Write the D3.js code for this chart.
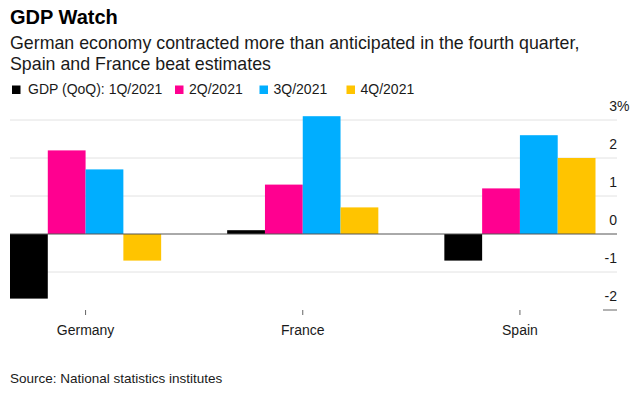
<!DOCTYPE html>
<html>
<head>
<meta charset="utf-8">
<script src="https://cdn.jsdelivr.net/npm/d3@7"></script>
<style>
  body { margin: 0; background: #fff; }
  svg { font-family: "Liberation Sans", Arial, sans-serif; }
</style>
</head>
<body>
<svg width="639" height="399"></svg>
<script>
const countries = ["Germany", "France", "Spain"];
const quarters = ["1Q/2021", "2Q/2021", "3Q/2021", "4Q/2021"];
const q1 = [-1.7, 0.1, -0.7];
const q2 = [2.2, 1.3, 1.2];
const q3 = [1.7, 3.1, 2.6];
const q4 = [-0.7, 0.7, 2.0];
const yTicks = [-2, -1, 0, 1, 2, 3];
const colors = ["#000000", "#ff0090", "#00aeff", "#ffc400"];

const series = [q1, q2, q3, q4];
const rows = countries.map((c, i) => ({ country: c, values: series.map(s => s[i]) }));

const svg = d3.select("svg");

// Title block
svg.append("text").attr("x", 10).attr("y", 23.5)
    .style("font-size", "20px").style("font-weight", "bold").style("fill", "#000")
    .text("GDP Watch");
svg.append("text").attr("x", 10).attr("y", 48.5)
    .style("font-size", "17.8px").style("fill", "#1a1a1a")
    .text("German economy contracted more than anticipated in the fourth quarter,");
svg.append("text").attr("x", 10).attr("y", 69.5)
    .style("font-size", "17.8px").style("fill", "#1a1a1a")
    .text("Spain and France beat estimates");

// Legend
const legendLabels = ["GDP (QoQ): 1Q/2021", "2Q/2021", "3Q/2021", "4Q/2021"];
const legendX = [12, 175, 259.5, 346.5];
const legend = svg.append("g").selectAll("g")
    .data(legendLabels)
    .enter().append("g")
    .attr("transform", (d, i) => `translate(${legendX[i]},0)`);
legend.append("rect")
    .attr("x", 0).attr("y", 85.5).attr("width", 8.5).attr("height", 8.5)
    .style("fill", (d, i) => colors[i]);
legend.append("text")
    .attr("x", (d, i) => i === 0 ? 16 : 14).attr("y", 94)
    .style("font-size", "14px").style("fill", "#1a1a1a")
    .text(d => d);

// Scales
const x0 = d3.scaleBand().domain(countries).range([10, 595.5])
    .paddingInner(0.304).paddingOuter(0);
const x1 = d3.scaleBand().domain(d3.range(quarters.length)).range([0, x0.bandwidth()]);
const y = d3.scaleLinear().domain([-2, 3]).range([310, 120]);

// Gridlines
svg.append("g").selectAll("line")
    .data(yTicks.filter(t => t !== -2 && t !== 0))
    .enter().append("line")
    .attr("x1", 10).attr("x2", 617)
    .attr("y1", d => y(d)).attr("y2", d => y(d))
    .style("stroke", "#e2e2e2").style("stroke-width", 1);

// bottom short tick for -2
svg.append("line")
    .attr("x1", 603).attr("x2", 617).attr("y1", y(-2)).attr("y2", y(-2))
    .style("stroke", "#666").style("stroke-width", 1);

// Y labels
svg.append("g").selectAll("text")
    .data(yTicks)
    .enter().append("text")
    .attr("x", 617).attr("y", d => y(d) - 9.5)
    .attr("text-anchor", "end")
    .style("font-size", "14px").style("fill", "#1a1a1a")
    .text(d => d);
svg.append("text").attr("x", 617).attr("y", y(3) - 9.5)
    .style("font-size", "14px").style("fill", "#1a1a1a").text("%");

// Bars
const groups = svg.append("g").selectAll("g")
    .data(rows)
    .enter().append("g")
    .attr("transform", d => `translate(${x0(d.country)},0)`);
groups.selectAll("rect")
    .data(d => d.values.map((v, i) => ({ v, i })))
    .enter().append("rect")
    .attr("x", d => x1(d.i))
    .attr("width", x1.bandwidth())
    .attr("y", d => y(Math.max(0, d.v)))
    .attr("height", d => Math.abs(y(d.v) - y(0)))
    .style("fill", d => colors[d.i]);

// Zero line
svg.append("line")
    .attr("x1", 10).attr("x2", 617).attr("y1", y(0)).attr("y2", y(0))
    .style("stroke", "#555").style("stroke-width", 1);

// X axis ticks and labels
const xa = svg.append("g").selectAll("g")
    .data(countries)
    .enter().append("g")
    .attr("transform", d => `translate(${x0(d) + x0.bandwidth() / 2},0)`);
xa.append("line").attr("x1", 0).attr("x2", 0).attr("y1", 310).attr("y2", 315)
    .style("stroke", "#666").style("stroke-width", 1);
xa.append("text").attr("y", 335).attr("text-anchor", "middle")
    .style("font-size", "14px").style("fill", "#1a1a1a")
    .text(d => d);

// Source
svg.append("text").attr("x", 10).attr("y", 382.5)
    .style("font-size", "13.5px").style("fill", "#1a1a1a")
    .text("Source: National statistics institutes");
</script>
</body>
</html>
